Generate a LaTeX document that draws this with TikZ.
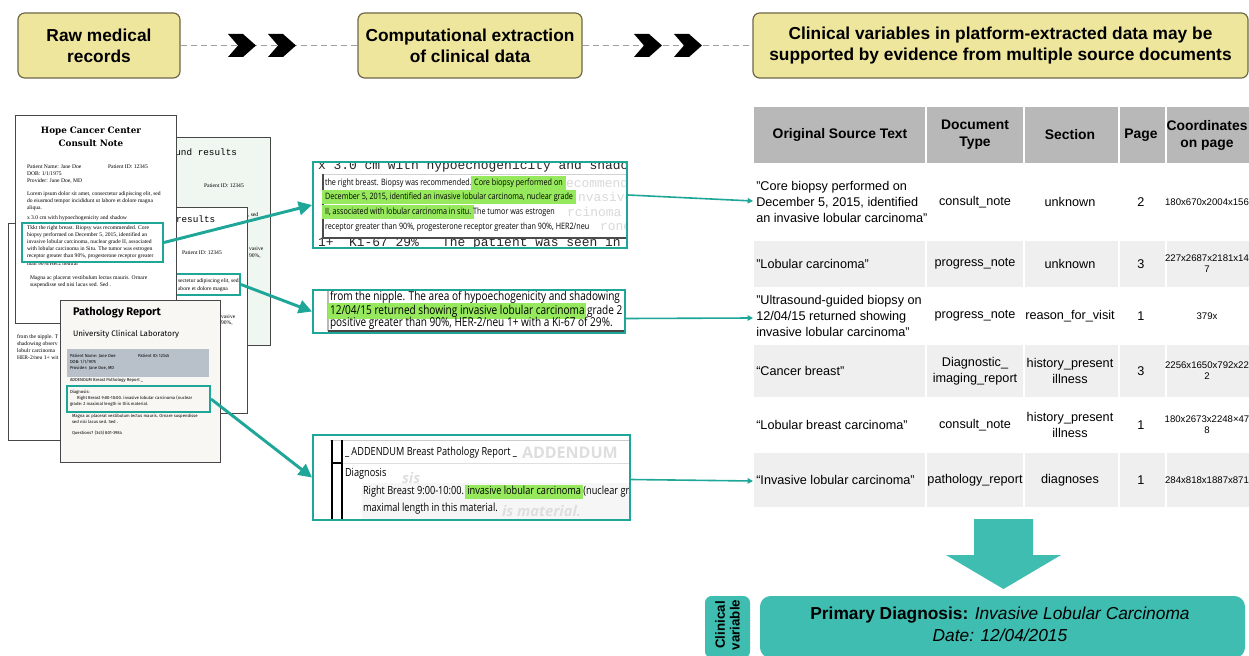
\documentclass[tikz,border=0pt]{standalone}
\usepackage{fontspec}
\setmainfont{Liberation Sans}
\newfontfamily\serifdoc{Liberation Serif}
\newfontfamily\slabdoc{DejaVu Serif}
\newfontfamily\monodoc{Liberation Mono}
\newfontfamily\pathdoc{Fira Sans}
\newfontfamily\exfont[FakeStretch=0.82]{Open Sans}
\newfontfamily\ghostfont{Open Sans}
\usetikzlibrary{arrows.meta,calc}

\definecolor{hdrfill}{RGB}{238,230,156}
\definecolor{hdrdraw}{RGB}{110,104,72}
\definecolor{tealline}{RGB}{30,166,152}
\definecolor{tealbox}{RGB}{62,189,176}
\definecolor{hlgreen}{RGB}{150,232,92}
\definecolor{tblhead}{RGB}{184,184,184}
\definecolor{tblrow}{RGB}{239,239,239}
\definecolor{bandgray}{RGB}{184,192,201}
\definecolor{greenpage}{RGB}{240,247,241}
\definecolor{pathpage}{RGB}{248,247,243}
\definecolor{ghost}{RGB}{222,222,222}

\newcommand\hlx[2][1.6pt]{\hspace*{-#1}{\setlength{\fboxsep}{#1}\colorbox{hlgreen}{\vphantom{Ag}#2}}\hspace*{-#1}}
\newcommand\mychev[2]{\fill[black] (#1,#2) -- ++(15,0) -- ++(13,11.5) -- ++(-13,11.5) -- ++(-15,0) -- ++(10,-11.5) -- cycle;}

\begin{document}
\begin{tikzpicture}[x=0.75pt,y=-0.75pt,
 hdr/.style={draw=hdrdraw, fill=hdrfill, rounded corners=5pt, line width=0.9pt, align=center, font=\bfseries\fontsize{13}{15.75}\selectfont, inner sep=0pt, minimum height=48.75pt},
 dashconn/.style={draw=gray!75, line width=0.9pt, dash pattern=on 4.5pt off 3pt},
 page/.style={draw=gray!55!black, line width=0.6pt},
 tealframe/.style={draw=tealline, line width=1.5pt, inner sep=0pt},
 conn/.style={draw=tealline, line width=2.2pt, -{Triangle[length=10pt,width=10pt]}},
 tconn/.style={draw=tealline, line width=1.2pt, -{Triangle[length=4pt,width=4pt]}},
 tx/.style={anchor=west, inner sep=0pt, outer sep=0pt},
 srf/.style={tx, font=\serifdoc\fontsize{4.2}{5}\selectfont},
 fir/.style={tx, font=\pathdoc\fontsize{3.2}{4}\selectfont},
 mon/.style={tx, font=\monodoc\fontsize{7}{8}\selectfont},
 exa/.style={tx, font=\exfont\fontsize{6.6}{8}\selectfont},
 exb/.style={tx, font=\exfont\fontsize{9.2}{10}\selectfont},
 exc/.style={tx, font=\exfont\fontsize{8.4}{10}\selectfont},
 exm/.style={tx, font=\monodoc\fontsize{9.7}{11}\selectfont},
 th/.style={inner sep=0pt, align=center, font=\bfseries\fontsize{10.4}{12.75}\selectfont},
 td/.style={inner sep=0pt, align=center, font=\fontsize{9.5}{12}\selectfont},
 tdl/.style={td, anchor=west, align=left},
 tds/.style={inner sep=0pt, align=center, font=\fontsize{7.2}{8.4}\selectfont},
]
\useasboundingbox (0,0) rectangle (1249,656);
\fill[white] (0,0) rectangle (1249,656);

% ---------- header ----------
\node[hdr, minimum width=121.5pt] (h1) at (99,45.5) {Raw medical\\records};
\node[hdr, minimum width=168pt] (h2) at (470,45.5) {Computational extraction\\of clinical data};
\node[hdr, minimum width=371.25pt] (h3) at (1000.5,45.5) {Clinical variables in platform-extracted data may be\\supported by evidence from multiple source documents};
\draw[dashconn] (h1.east) -- (h2.west);
\draw[dashconn] (h2.east) -- (h3.west);
\mychev{228}{34}\mychev{268}{34}
\mychev{634}{34}\mychev{674}{34}

% ---------- green page ----------
\filldraw[page, fill=greenpage] (150,137) rectangle (270,345);
\begin{scope}
\clip (150,137) rectangle (270,345);
\node[mon, anchor=east] (g1) at (237,152) {ound results};
\node[srf] (g2) at (204,186) {Patient ID: 12345};
\node[srf] (g3) at (248,215) {, sed};
\node[srf] (g4) at (249,249) {vasive};
\node[srf] (g5) at (249,256) {90\%,};
\end{scope}

% ---------- left page ----------
\filldraw[page, fill=white] (8,223) rectangle (200,440);
\node[srf] (l1) at (17,337) {from the nipple. T};
\node[srf] (l2) at (17,344) {shadowing observ};
\node[srf] (l3) at (17,351) {lobulr carcinoma};
\node[srf] (l4) at (17,358) {HER-2/neu 1+ wit};

% ---------- results page ----------
\filldraw[page, fill=white] (100,207) rectangle (247,413);
\begin{scope}
\clip (100,207) rectangle (247,413);
\node[mon] (r1) at (176,219) {results};
\node[srf] (r2) at (182,253) {Patient ID: 12345};
\node[srf] (r3) at (178,281) {sectetur adipiscing elit, sed};
\node[srf] (r4) at (178,289) {abore et dolore magna};
\node[srf] (r5) at (221,317) {vasive};
\node[srf] (r6) at (221,323) {90\%,};
\end{scope}
\node[tealframe, minimum width=48pt, minimum height=15.75pt] (rbox) at (208,284.5) {};

% ---------- consult note ----------
\filldraw[page, fill=white] (15,115) rectangle (176,323);
\begin{scope}
\clip (15,115) rectangle (176,323);
\node[inner sep=0pt, font=\slabdoc\bfseries\fontsize{6.6}{8}\selectfont] (c0) at (91,131) {Hope Cancer Center};
\node[inner sep=0pt, font=\slabdoc\bfseries\fontsize{6.6}{8}\selectfont] (c00) at (91,143) {Consult Note};
\node[srf] (c1) at (27,167) {Patient Name: Jane Doe};
\node[srf] (c2) at (108,167) {Patient ID: 12345};
\node[srf] (c3) at (27,174) {DOB: 1/1/1975};
\node[srf] (c4) at (27,181) {Provider: Jane Doe, MD};
\node[srf] (c5) at (27,194) {Lorem ipsum dolor sit amet, consectetur adipiscing elit, sed};
\node[srf] (c6) at (27,201) {do eiusmod tempor incididunt ut labore et dolore magna};
\node[srf] (c7) at (27,208) {aliqua.};
\node[srf] (c8) at (27,218) {x 3.0 cm with hypoechogenicity and shadow};
\node[srf] (c9) at (27,228) {Tkkt the right breast. Biopsy was recommended. Core};
\node[srf] (c10) at (27,235) {biopsy performed on December 5, 2015, identified an};
\node[srf] (c11) at (27,242) {invasive lobular carcinoma, nuclear grade II, associated};
\node[srf] (c12) at (27,249) {with lobular carcinoma in Situ. The tumor was estrogen};
\node[srf] (c13) at (27,256) {receptor greater than 90\%, progesterone receptor greater};
\node[srf] (c14) at (27,264) {than 90\%/Her2 neutral};
\node[srf] (c15) at (30,278) {Magna ac placerat vestibulum lectus mauris. Ornare};
\node[srf] (c16) at (30,285) {suspendisse sed nisi lacus sed. Sed .};
\end{scope}
\node[tealframe, minimum width=105.75pt, minimum height=29.25pt] (cbox) at (92.5,242.5) {};

% ---------- pathology report ----------
\filldraw[page, fill=pathpage] (60,300) rectangle (220,462);
\begin{scope}
\clip (60,300) rectangle (220,462);
\node[tx, font=\pathdoc\bfseries\fontsize{8.3}{10}\selectfont] (p1) at (73,313) {Pathology Report};
\node[tx, font=\pathdoc\fontsize{6}{7}\selectfont] (p2) at (73,334) {University Clinical Laboratory};
\fill[bandgray] (67,349) rectangle (209,377);
\node[fir] (p3) at (70,356) {Patient Name: Jane Doe};
\node[fir] (p4) at (138,356) {Patient ID: 12345};
\node[fir] (p5) at (70,362) {DOB: 1/1/1975};
\node[fir] (p6) at (70,368) {Provider: Jane Doe, MD};
\node[fir] (p7) at (70,380) {ADDENDUM Breast Pathology Report \_};
\node[fir] (p8) at (70,392) {Diagnosis:};
\node[fir] (p9) at (77,398) {Right Breast 9:00-10:00. invasive lobular carcinoma (nuclear};
\node[fir] (p10) at (70,404) {grade: 2 maximal length in this material.};
\node[fir] (p11) at (72,416) {Magna ac placerat vestibulum lectus mauris. Ornare suspendisse};
\node[fir] (p12) at (72,422) {sed nisi lacus sed. Sed .};
\node[fir] (p13) at (72,433) {Questions? (345) 801-3984};
\end{scope}
\node[tealframe, minimum width=107.25pt, minimum height=19.5pt] (pbox) at (138.5,399) {};

% ---------- excerpt 1 ----------
\fill[white] (313,162) rectangle (627,248);
\begin{scope}
\clip (313,162) rectangle (627,248);
\node[exm, text=gray!30!black] (m1) at (318,166) {x 3.0 cm with hypoechogenicity and shadow};
\node[exm, text=gray!30!black] (m2) at (318,243) {1+\ \ Ki-67 29\%\ \ \ The patient was seen in};
\fill[white] (323,174) rectangle (627,238);
\draw[gray!35] (323,174) -- (627,174);
\draw[gray!60!black, line width=0.9pt] (323,174) -- (323,238) -- (627,238);
\node[exm, text=gray!30] (m3) at (566,183) {ecommende};
\node[exm, text=gray!30] (m4) at (578,197) {nvasive};
\node[exm, text=gray!30] (m5) at (567,212) {rcinoma in};
\node[exm, text=gray!30] (m6) at (600,227) {rone};
\node[exa] (e1) at (325,183) {the right breast. Biopsy was recommended. \hlx[2.2pt]{Core biopsy performed on}};
\node[exa] (e2) at (325,197) {\hlx[2.2pt]{December 5, 2015, identified an invasive lobular carcinoma, nuclear grade}};
\node[exa] (e3) at (325,212) {\hlx[2.2pt]{II, associated with lobular carcinoma in situ.} The tumor was estrogen};
\node[exa] (e4) at (325,227) {receptor greater than 90\%, progesterone receptor greater than 90\%, HER2/neu};
\end{scope}
\node[tealframe, minimum width=235.5pt, minimum height=64.5pt] (ex1) at (470,205) {};

% ---------- excerpt 2 ----------
\fill[white] (313,290) rectangle (625,333);
\begin{scope}
\clip (313,290) rectangle (625,333);
\draw[gray!55, line width=1.3pt] (328,288) -- (328,331);
\draw[gray!55!black, line width=0.9pt] (328,331) -- (625,331);
\node[exb] (f1) at (330,297) {from the nipple. The area of hypoechogenicity and shadowing};
\node[exb] (f2) at (330,311) {\hlx[1.4pt]{12/04/15 returned showing invasive lobular carcinoma} grade 2};
\node[exb] (f3) at (330,323) {positive greater than 90\%, HER-2/neu 1+ with a Ki-67 of 29\%.};
\end{scope}
\node[tealframe, minimum width=234pt, minimum height=32.25pt] (ex2) at (469,311.5) {};

% ---------- excerpt 3 ----------
\fill[white] (313,435) rectangle (630,520);
\begin{scope}
\clip (313,435) rectangle (630,520);
\fill[gray!7] (362,483) rectangle (630,520);
\draw[gray!40] (330,440) -- (630,440);
\draw[gray!25] (342,463) -- (630,463);
\draw[black, line width=1.1pt] (332,440) -- (332,520) (342,440) -- (342,520) (332,463) -- (342,463);
\node[tx, font=\ghostfont\bfseries\fontsize{12}{14}\selectfont, text=ghost] (k1) at (522,453) {ADDENDUM};
\node[tx, font=\ghostfont\bfseries\itshape\fontsize{11}{13}\selectfont, text=ghost] (k2) at (402,478) {sis};
\node[tx, font=\ghostfont\bfseries\itshape\fontsize{11}{13}\selectfont, text=ghost] (k3) at (502,511) {is material.};
\node[exc] (k4) at (345,453) {\_ ADDENDUM Breast Pathology Report \_};
\node[exc] (k5) at (345,474) {Diagnosis};
\node[exc] (k6) at (363,492) {Right Breast 9:00-10:00. \hlx[1.4pt]{invasive lobular carcinoma} (nuclear grade};
\node[exc] (k7) at (363,509) {maximal length in this material.};
\end{scope}
\node[tealframe, minimum width=237.75pt, minimum height=63.75pt] (ex3) at (471.5,477.5) {};

% ---------- connectors to excerpts ----------
\draw[conn] (cbox.east) -- (ex1.west);
\draw[conn] (rbox.east) -- (ex2.west);
\draw[conn] (pbox.east) -- (ex3.west);

% ---------- table ----------
\begin{scope}
\clip (740,100) rectangle (1249,520);
\fill[tblhead] (754,107) rectangle (1260,163);
\fill[tblrow] (754,241) rectangle (1260,287);
\fill[tblrow] (754,345) rectangle (1260,397);
\fill[tblrow] (754,453) rectangle (1260,507);
\foreach \cx in {926,1023.5,1118.5,1165.5} \draw[white, line width=1.5pt] (\cx,107) -- (\cx,507);
\node[th] (hA) at (840,135) {Original Source Text};
\node[th] (hB) at (975,135) {Document\\Type};
\node[th] (hC) at (1070,135) {Section};
\node[th] (hD) at (1141,135) {Page};
\node[th] (hE) at (1207,135) {Coordinates\\on page};
% row 1
\node[tdl] (d11) at (756,202) {"Core biopsy performed on\\December 5, 2015, identified\\an invasive lobular carcinoma"};
\node[td] (d12) at (975,202) {consult\_note};
\node[td] (d13) at (1070,202) {unknown};
\node[td] (d14) at (1141,202) {2};
\node[tds] (d15) at (1207,202) {180x670x2004x156};
% row 2
\node[tdl] (d21) at (756,264) {"Lobular carcinoma"};
\node[td] (d22) at (975,264) {progress\_note};
\node[td] (d23) at (1070,264) {unknown};
\node[td] (d24) at (1141,264) {3};
\node[tds] (d25) at (1207,264) {227x2687x2181x14\\7};
% row 3
\node[tdl] (d31) at (756,316) {"Ultrasound-guided biopsy on\\12/04/15 returned showing\\invasive lobular carcinoma"};
\node[td] (d32) at (975,316) {progress\_note};
\node[td] (d33) at (1070,316) {reason\_for\_visit};
\node[td] (d34) at (1141,316) {1};
\node[tds] (d35) at (1207,316) {379x};
% row 4
\node[tdl] (d41) at (756,371) {“Cancer breast”};
\node[td] (d42) at (975,371) {Diagnostic\_\\imaging\_report};
\node[td] (d43) at (1070,371) {history\_present\\illness};
\node[td] (d44) at (1141,371) {3};
\node[tds] (d45) at (1207,371) {2256x1650x792x22\\2};
% row 5
\node[tdl] (d51) at (756,425) {“Lobular breast carcinoma”};
\node[td] (d52) at (975,425) {consult\_note};
\node[td] (d53) at (1070,425) {history\_present\\illness};
\node[td] (d54) at (1141,425) {1};
\node[tds] (d55) at (1207,425) {180x2673x2248×47\\8};
% row 6
\node[tdl] (d61) at (756,480) {“Invasive lobular carcinoma”};
\node[td] (d62) at (975,480) {pathology\_report};
\node[td] (d63) at (1070,480) {diagnoses};
\node[td] (d64) at (1141,480) {1};
\node[tds] (d65) at (1207,480) {284x818x1887x871};
\end{scope}

% ---------- connectors to table ----------
\coordinate (t1) at (753,201);
\coordinate (t3) at (753,318);
\coordinate (t6) at (753,481);
\draw[tconn] ($(ex1.east)+(0,-10)$) -- (t1);
\draw[tconn] ($(ex2.east)+(0,7)$) -- (t3);
\draw[tconn] ($(ex3.east)+(0,2)$) -- (t6);

% ---------- result ----------
\fill[tealbox] (974,519) -- (1033,519) -- (1033,555) -- (1061,555) -- (1003.5,589) -- (946,555) -- (974,555) -- cycle;
\node[fill=tealbox, rounded corners=8pt, minimum width=363.75pt, minimum height=46.5pt, inner sep=0pt] (pd) at (1002.5,627) {};
\node[inner sep=0pt, align=center, font=\fontsize{13}{16.5}\selectfont] (pdt) at (1000,624) {\textbf{Primary Diagnosis:} \textit{Invasive Lobular Carcinoma}\\\textit{Date: 12/04/2015}};
\node[fill=tealbox, rounded corners=5pt, minimum width=33.75pt, minimum height=46.5pt, inner sep=0pt] (cv) at (727.5,627) {};
\node[rotate=90, align=center, inner sep=0pt, font=\bfseries\fontsize{10}{11}\selectfont] (cvt) at (727.5,625) {Clinical\\variable};
\end{tikzpicture}
\end{document}
